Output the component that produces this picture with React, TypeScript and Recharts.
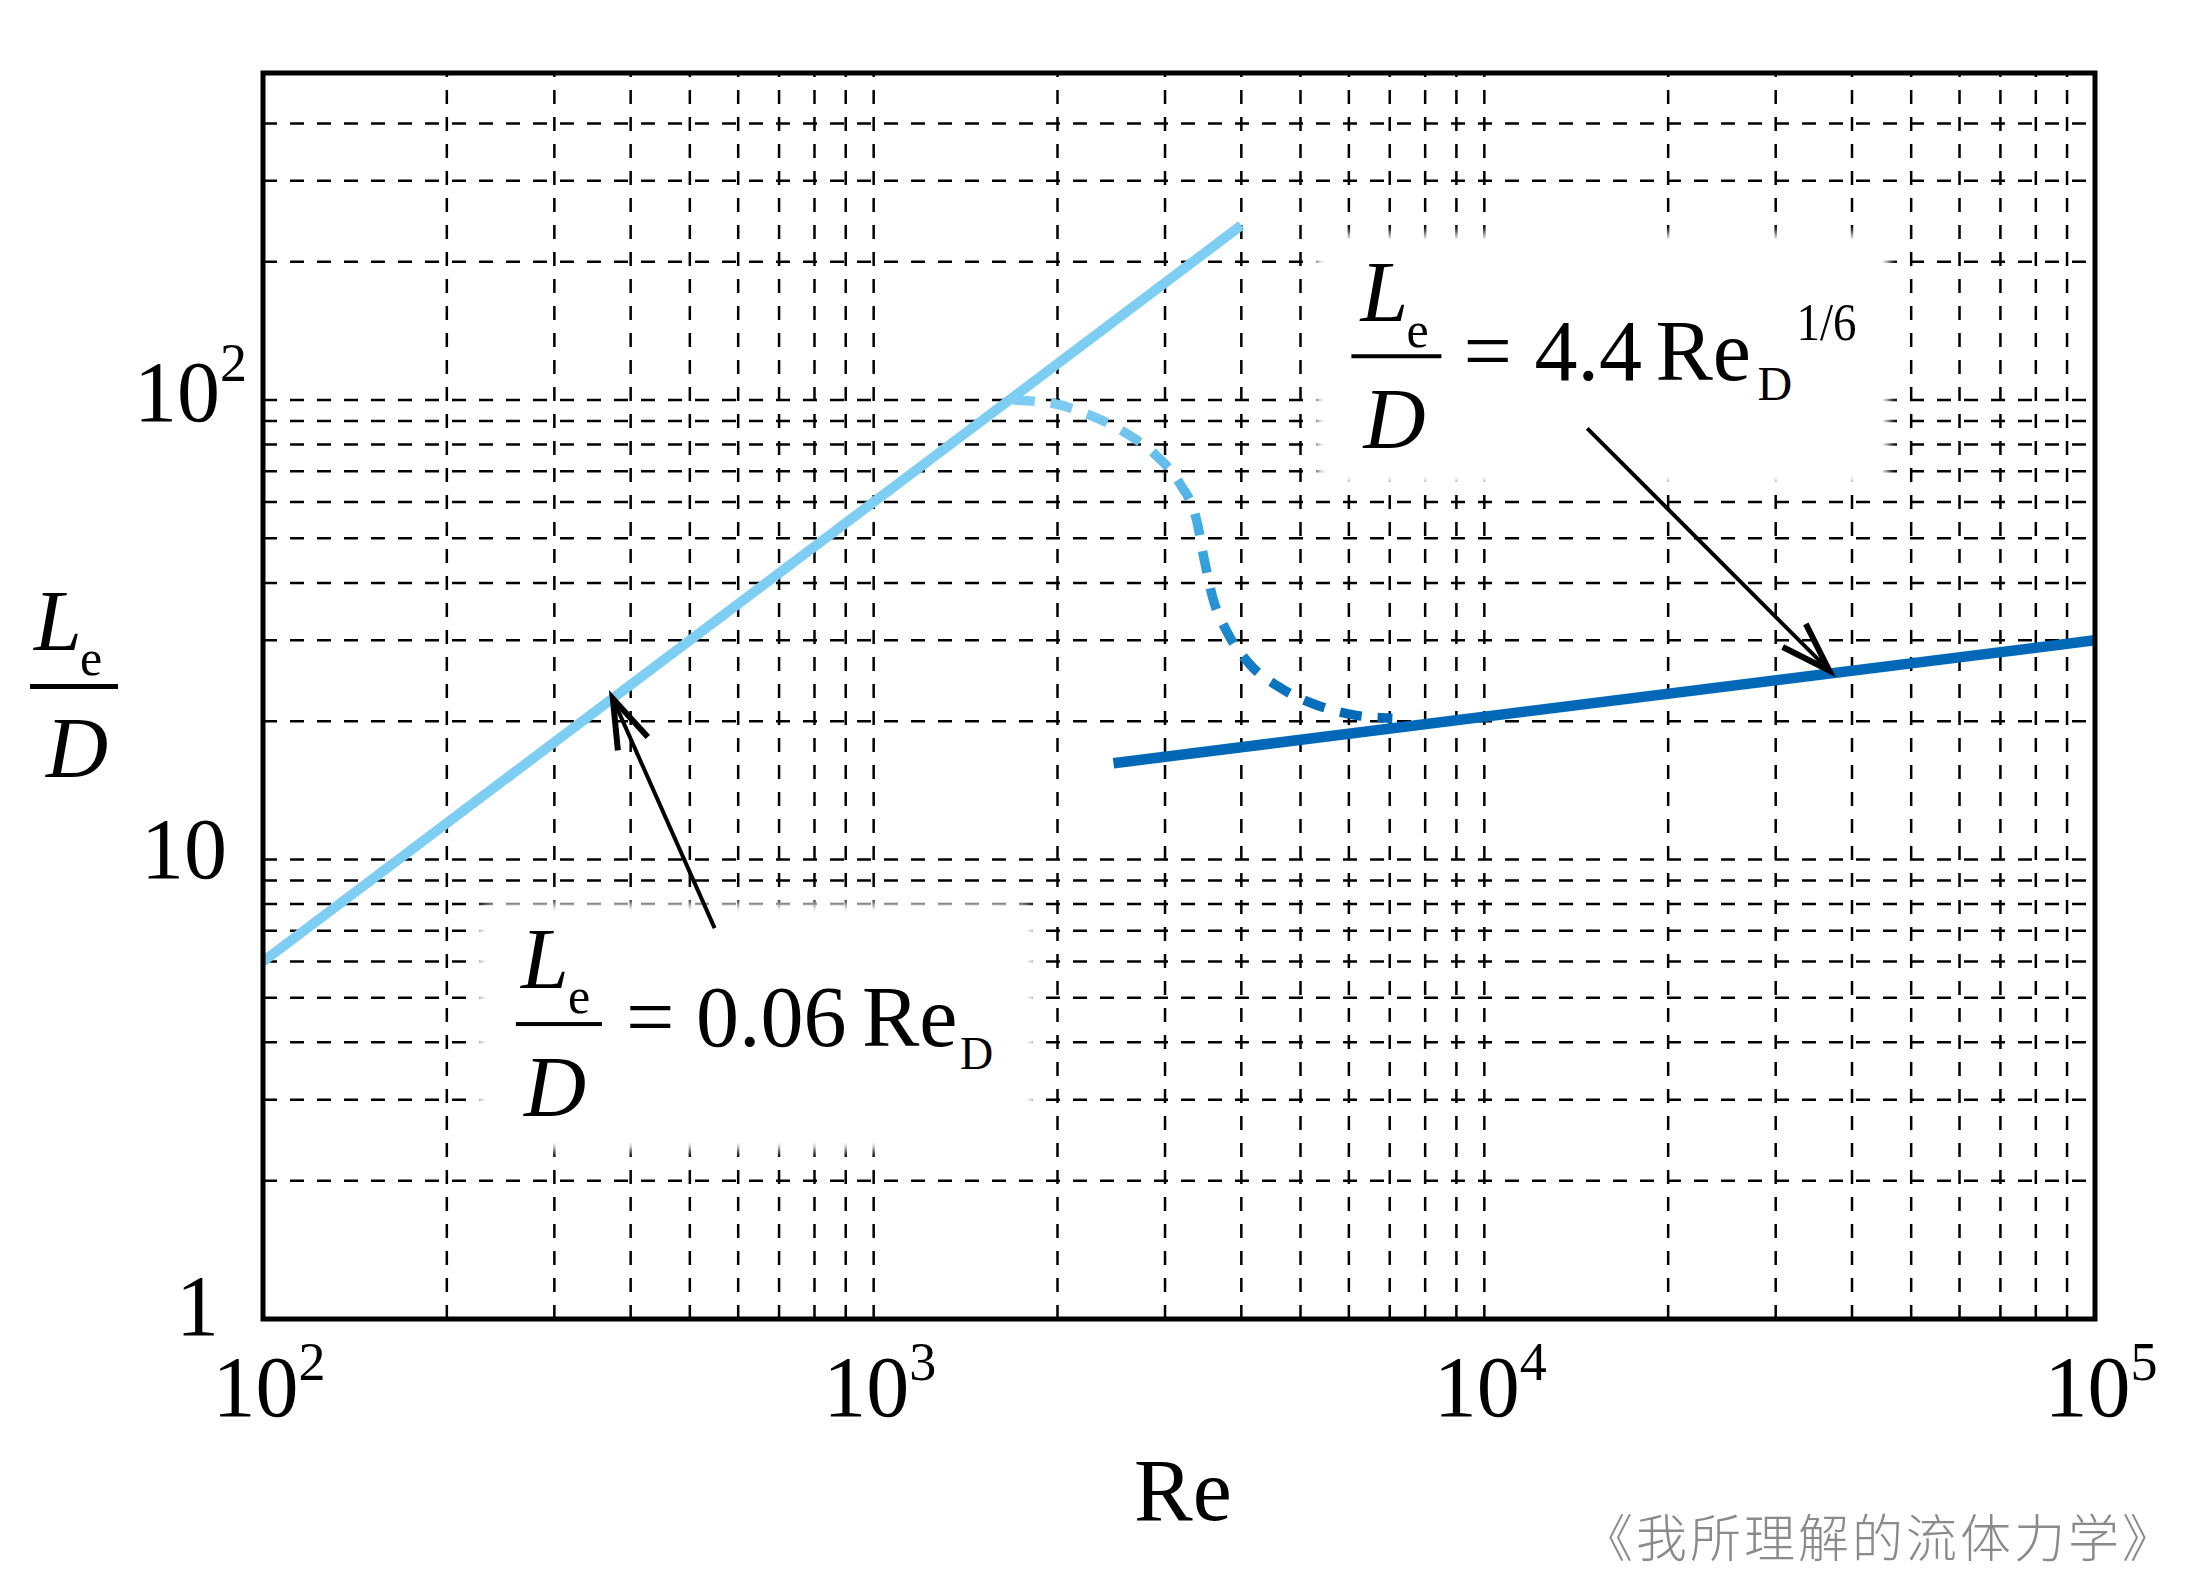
import React from 'react'
import { LineChart, Line, XAxis, YAxis, ReferenceLine, ReferenceArea } from 'recharts'

const W = 2205
const H = 1575
const SERIF = "'Liberation Serif', 'Times New Roman', serif"

// entrance length Le/D against Re
const laminarRe = [100, 4000]
const laminarLd = [6, 240]
const turbulentRe = [2470, 100000]
const turbulentLd = [16.2, 30]
const transitionRe = [1690, 1960, 2260, 2590, 2900, 3170, 3380, 3480, 3590, 3800, 4120, 4620, 5310, 6170, 7070]
const transitionLd = [100, 98.4, 92.7, 84.7, 75.8, 65.9, 54.7, 44.8, 37.2, 31.1, 26.7, 23.7, 21.7, 20.6, 20.3]

const xTicks = [100, 1000, 10000, 100000]
const xTickExp = ['2', '3', '4', '5']
const yTicks = [1, 10, 100]
const yTickBase = ['1', '10', '10']
const yTickExp = ['', '', '2']

const xGrid = [
  200, 300, 400, 500, 600, 700, 800, 900, 1000,
  2000, 3000, 4000, 5000, 6000, 7000, 8000, 9000, 10000,
  20000, 30000, 40000, 50000, 60000, 70000, 80000, 90000,
]
const yGrid = [
  2, 3, 4, 5, 6, 7, 8, 9, 10,
  20, 30, 40, 50, 60, 70, 80, 90, 100,
  200, 300, 400,
]

// arrows: [tailRe, tailLd, tipRe, tipLd]
const laminarArrow = [549, 7.09, 374, 22.4]
const turbulentArrow = [14740, 86.8, 36700, 25.8]

const rows = (xs: number[], ys: number[]) => xs.map((re, i) => ({ re, ld: ys[i] }))
const laminarRows = rows(laminarRe, laminarLd)
const turbulentRows = rows(turbulentRe, turbulentLd)
const transitionRows = rows(transitionRe, transitionLd)

function XTick(props: any) {
  const { x, y, payload } = props
  const exp = xTickExp[xTicks.indexOf(payload.value)]
  return (
    <text x={x + 6} y={y + 97} textAnchor="middle" fontFamily={SERIF} fontSize={86} fill="#000">
      10<tspan dy={-36} fontSize={54}>{exp}</tspan>
    </text>
  )
}

const yTickShift = [
  { dx: -44, dy: 16 },
  { dx: -36, dy: 18 },
  { dx: -16, dy: 21 },
]

function YTick(props: any) {
  const { x, y, payload } = props
  const i = yTicks.indexOf(payload.value)
  const s = yTickShift[i]
  return (
    <text x={x + s.dx} y={y + s.dy} textAnchor="end" fontFamily={SERIF} fontSize={86} fill="#000">
      {yTickBase[i]}
      {yTickExp[i] && <tspan dy={-40} fontSize={54}>{yTickExp[i]}</tspan>}
    </text>
  )
}

function Arrow(props: any) {
  const { x1, y1, x2, y2 } = props
  const a = Math.atan2(y1 - y2, x1 - x2)
  const len = 52
  const spread = 0.32
  const p1 = `${x2 + len * Math.cos(a + spread)},${y2 + len * Math.sin(a + spread)}`
  const p2 = `${x2 + len * Math.cos(a - spread)},${y2 + len * Math.sin(a - spread)}`
  return (
    <g>
      <line x1={x1} y1={y1} x2={x2} y2={y2} stroke="#000" strokeWidth={4} />
      <polyline points={`${p1} ${x2},${y2} ${p2}`} fill="none" stroke="#000" strokeWidth={6} />
    </g>
  )
}

const T = (p: any) => <text fontFamily={SERIF} fill="#000" {...p} />

function LaminarNote(props: any) {
  const { x, y, width, height } = props
  return (
    <g>
      <rect x={x} y={y} width={width} height={height} rx={18} fill="#fff" filter="url(#soft)" />
      <g transform={`translate(${x},${y})`}>
        <T x={44} y={85} fontSize={86} fontStyle="italic">L</T>
        <T x={91} y={110} fontSize={50}>e</T>
        <rect x={39} y={119} width={86} height={4} fill="#000" />
        <T x={47} y={213} fontSize={86} fontStyle="italic">D</T>
        <T x={149} y={143} fontSize={86}>=</T>
        <T x={219} y={143} fontSize={86}>0.06</T>
        <T x={385} y={143} fontSize={86}>Re</T>
        <T x={483} y={166} fontSize={46}>D</T>
      </g>
    </g>
  )
}

function TurbulentNote(props: any) {
  const { x, y, width, height } = props
  return (
    <g>
      <rect x={x} y={y} width={width} height={height} rx={18} fill="#fff" filter="url(#soft)" />
      <g transform={`translate(${x},${y})`}>
        <T x={45} y={88} fontSize={86} fontStyle="italic">L</T>
        <T x={91} y={114} fontSize={50}>e</T>
        <rect x={36} y={121} width={90} height={4} fill="#000" />
        <T x={48} y={215} fontSize={86} fontStyle="italic">D</T>
        <T x={148} y={147} fontSize={86}>=</T>
        <T x={219} y={147} fontSize={86}>4.4</T>
        <T x={340} y={147} fontSize={86}>Re</T>
        <T x={442} y={167} fontSize={48}>D</T>
        <T x={481} y={107} fontSize={53} textLength={60} lengthAdjust="spacingAndGlyphs">1/6</T>
      </g>
    </g>
  )
}

export default function App() {
  return (
    <div style={{ position: 'absolute', left: 0, top: 0, width: W, height: H, background: '#fff' }}>
      <LineChart width={W} height={H} margin={{ top: 73, right: 110, bottom: 156, left: 163 }}>
        <XAxis
          type="number"
          dataKey="re"
          scale="log"
          domain={[100, 100000]}
          ticks={xTicks}
          interval={0}
          allowDataOverflow
          axisLine={false}
          tickLine={false}
          tickSize={0}
          tickMargin={0}
          height={100}
          tick={XTick}
        />
        <YAxis
          type="number"
          dataKey="ld"
          scale="log"
          domain={[1, 515]}
          ticks={yTicks}
          interval={0}
          allowDataOverflow
          axisLine={false}
          tickLine={false}
          tickSize={0}
          tickMargin={0}
          width={100}
          tick={YTick}
        />
        {xGrid.map((v) => (
          <ReferenceLine key={`gx${v}`} x={v} stroke="#000" strokeWidth={2.5} strokeDasharray="14 13" zIndex={-50} />
        ))}
        {yGrid.map((v) => (
          <ReferenceLine key={`gy${v}`} y={v} stroke="#000" strokeWidth={2.5} strokeDasharray="14 13" zIndex={-50} />
        ))}
        <ReferenceArea x1={224} x2={1841} y1={2.33} y2={8.04} shape={LaminarNote} zIndex={50} />
        <ReferenceArea x1={5289} x2={45990} y1={65.3} y2={230.7} shape={TurbulentNote} zIndex={50} />
        <Line data={laminarRows} dataKey="ld" type="linear" stroke="#7ecef4" strokeWidth={10} dot={false} isAnimationActive={false} zIndex={400} />
        <Line data={transitionRows} dataKey="ld" type="monotone" stroke="url(#fade)" strokeWidth={9.5} strokeDasharray="22 16" dot={false} isAnimationActive={false} zIndex={400} />
        <Line data={turbulentRows} dataKey="ld" type="linear" stroke="#0068b7" strokeWidth={10.5} dot={false} isAnimationActive={false} zIndex={400} />
        <ReferenceLine
          segment={[{ x: laminarArrow[0], y: laminarArrow[1] }, { x: laminarArrow[2], y: laminarArrow[3] }]}
          shape={Arrow}
          zIndex={600}
        />
        <ReferenceLine
          segment={[{ x: turbulentArrow[0], y: turbulentArrow[1] }, { x: turbulentArrow[2], y: turbulentArrow[3] }]}
          shape={Arrow}
          zIndex={600}
        />
        <ReferenceArea x1={100} x2={100000} y1={1} y2={515} fill="none" fillOpacity={0} stroke="#000" strokeWidth={5} zIndex={700} />
      </LineChart>
      <svg width={W} height={H} style={{ position: 'absolute', left: 0, top: 0, pointerEvents: 'none' }}>
        <defs>
          <linearGradient id="fade" x1="0" y1="0" x2="0" y2="1">
            <stop offset="0%" stopColor="#80cdf3" />
            <stop offset="45%" stopColor="#3aa8e0" />
            <stop offset="100%" stopColor="#0068b7" />
          </linearGradient>
          <filter id="soft" x="-10%" y="-10%" width="120%" height="120%">
            <feGaussianBlur stdDeviation="5" />
          </filter>
        </defs>
        <text x={34} y={650} fontFamily={SERIF} fontSize={86} fontStyle="italic">L</text>
        <text x={80} y={675} fontFamily={SERIF} fontSize={50}>e</text>
        <rect x={30} y={684} width={88} height={5} fill="#000" />
        <text x={46} y={777} fontFamily={SERIF} fontSize={86} fontStyle="italic">D</text>
        <text x={1183} y={1520} textAnchor="middle" fontFamily={SERIF} fontSize={88}>Re</text>
        <text
          x={1582}
          y={1557}
          fontFamily="'Noto Sans CJK SC', sans-serif"
          fontWeight={300}
          fontSize={51}
          letterSpacing={3}
          fill="#8a8a8a"
        >
          《我所理解的流体力学》
        </text>
      </svg>
    </div>
  )
}
